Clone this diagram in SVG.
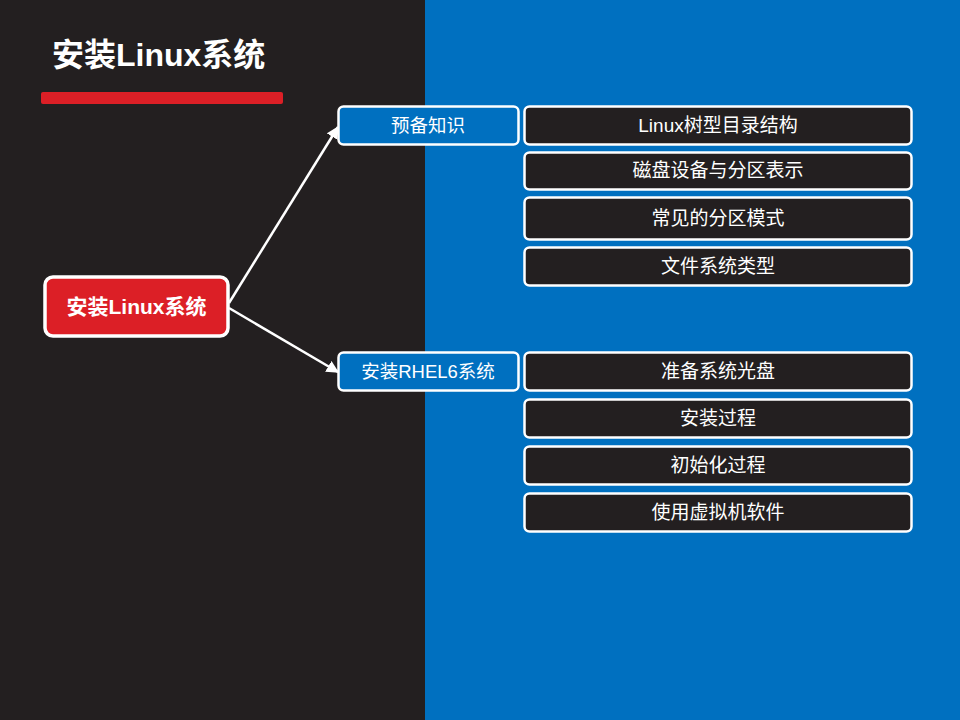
<svg xmlns="http://www.w3.org/2000/svg" width="960" height="720" viewBox="0 0 960 720">
<defs>
<marker id="ah" viewBox="0 0 10 10" refX="9" refY="5" markerWidth="5" markerHeight="5" orient="auto" markerUnits="strokeWidth">
<path d="M0,0 L10,5 L0,10 z" fill="#FFFFFF"/>
</marker>
<style>
text{font-family:"Liberation Sans","Noto Sans CJK SC",sans-serif;fill:#FFFFFF;text-anchor:middle}
.item rect{fill:#231F20;stroke:#FFFFFF;stroke-width:2.5}
.item text{font-size:19px}
.sub rect{fill:#0070C0;stroke:#FFFFFF;stroke-width:2.5}
.sub text{font-size:18.5px}
.conn{stroke:#FFFFFF;stroke-width:2.5;fill:none;marker-end:url(#ah)}
</style>
</defs>
<rect x="0" y="0" width="425" height="720" fill="#231F20"/>
<rect x="425" y="0" width="535" height="720" fill="#0070C0"/>
<text x="52" y="66" style="font-size:32px;font-weight:bold;text-anchor:start">安装Linux系统</text>
<rect x="41" y="92" width="242" height="12" rx="2" fill="#DC1F26"/>
<g id="connectors">
<line class="conn" x1="229" y1="303" x2="338" y2="127"/>
<line class="conn" x1="229" y1="308" x2="338" y2="372"/>
</g>
<g id="root">
<rect x="45" y="277" width="183" height="59" rx="8" fill="#DC1F26" stroke="#FFFFFF" stroke-width="3.5"/>
<text x="136.5" y="314" style="font-size:21px;font-weight:bold">安装Linux系统</text>
</g>
<g id="sub1" class="sub">
<rect x="338.5" y="106.5" width="180" height="38" rx="5"/>
<text x="428" y="132">预备知识</text>
</g>
<g id="sub2" class="sub">
<rect x="338.5" y="352.5" width="180" height="38" rx="5"/>
<text x="428" y="378">安装RHEL6系统</text>
</g>
<g id="i1" class="item"><rect x="524.5" y="106.5" width="387" height="38" rx="5"/><text x="718" y="132">Linux树型目录结构</text></g>
<g id="i2" class="item"><rect x="524.5" y="152.5" width="387" height="37" rx="5"/><text x="718" y="177">磁盘设备与分区表示</text></g>
<g id="i3" class="item"><rect x="524.5" y="197.5" width="387" height="42" rx="5"/><text x="718" y="225">常见的分区模式</text></g>
<g id="i4" class="item"><rect x="524.5" y="247.5" width="387" height="38" rx="5"/><text x="718" y="273">文件系统类型</text></g>
<g id="i5" class="item"><rect x="524.5" y="352.5" width="387" height="38" rx="5"/><text x="718" y="378">准备系统光盘</text></g>
<g id="i6" class="item"><rect x="524.5" y="399.5" width="387" height="38" rx="5"/><text x="718" y="425">安装过程</text></g>
<g id="i7" class="item"><rect x="524.5" y="446.5" width="387" height="38" rx="5"/><text x="718" y="472">初始化过程</text></g>
<g id="i8" class="item"><rect x="524.5" y="493.5" width="387" height="38" rx="5"/><text x="718" y="519">使用虚拟机软件</text></g>
</svg>
